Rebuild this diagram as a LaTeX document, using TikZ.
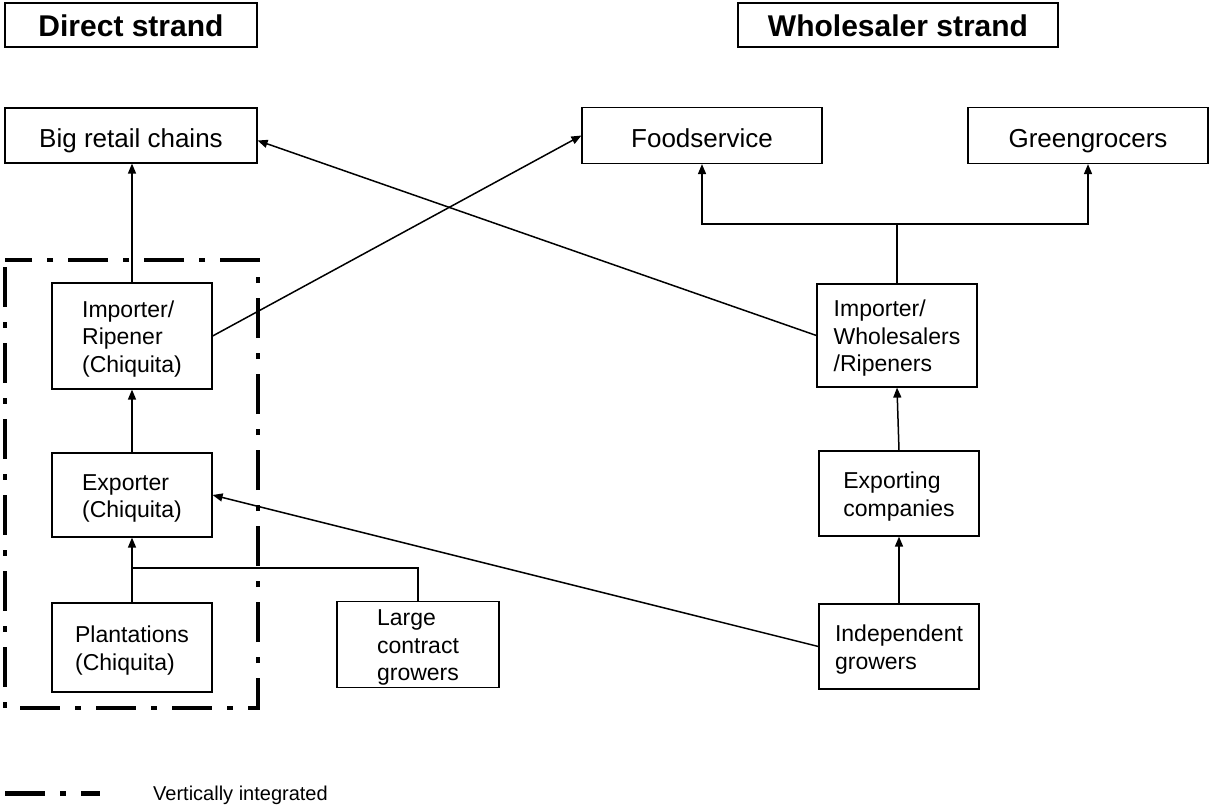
\documentclass[tikz,border=0pt]{standalone}
\usepackage{fontspec}
\setmainfont{Liberation Sans}
\usetikzlibrary{arrows.meta}
\begin{document}
\begin{tikzpicture}[x=1pt,y=-1pt,
  box/.style={draw, line width=1.2pt, inner sep=0pt, font=\fontsize{23}{27.5}\selectfont, align=left},
  two/.style={box, text height=45pt, text depth=0pt},
  three/.style={box, text height=72pt, text depth=0pt},
  topbox/.style={box, font=\fontsize{26}{30}\selectfont, align=center, text height=23pt, text depth=0pt},
  headbox/.style={box, font=\bfseries\fontsize{30}{36}\selectfont, align=center, text height=22pt, text depth=0pt},
  conn/.style={line width=1.5pt},
  arr/.style={conn, -{Triangle[length=10pt,width=8pt]}},
  vint/.style={line width=4pt, dash pattern=on 40pt off 15pt on 6pt off 15pt}]
\useasboundingbox (0,0) rectangle (1210,809);

% headings
\node[headbox, minimum width=252, minimum height=44] (direct) at (131,25) {Direct strand};
\node[headbox, minimum width=320, minimum height=44] (whole) at (898,25) {Wholesaler strand};

% top row
\node[topbox, minimum width=252, minimum height=55] (big) at (131,135.5) {Big retail chains};
\node[topbox, minimum width=240, minimum height=56] (food) at (702,135.5) {Foodservice};
\node[topbox, minimum width=240, minimum height=56] (green) at (1088,135.5) {Greengrocers};

% direct strand
\node[three, minimum width=160, minimum height=106] (impR) at (132,336) {Importer/\\Ripener\\(Chiquita)};
\node[two, minimum width=160, minimum height=84] (expC) at (132,495) {Exporter\\(Chiquita)};
\node[two, minimum width=160, minimum height=89] (plant) at (132,647.5) {Plantations\\(Chiquita)};
\node[three, minimum width=162, minimum height=86] (large) at (418,644.5) {Large\\contract\\growers};

% wholesaler strand
\node[three, minimum width=160, minimum height=103] (impW) at (897,335.5) {Importer/\\Wholesalers\\/Ripeners};
\node[two, minimum width=160, minimum height=85] (expW) at (899,493.5) {Exporting\\companies};
\node[two, minimum width=160, minimum height=85] (indep) at (899,646.5) {Independent\\growers};

% vertically integrated frame
\draw[vint, dash phase=69pt] (5,260) rectangle (258,708);

% connectors
\coordinate (j) at (132,568);
\coordinate (k) at (897,224);
\draw[arr] (impR.north) -- (impR.north |- big.south);
\draw[arr] (expC.north) -- (impR.south);
\draw[arr] (plant.north) -- (expC.south);
\draw[conn] (large.north) |- (j);
\draw[arr] (impR.east) -- (food.west);
\draw[arr] (impW.west) -- ([yshift=-5pt]big.east);
\draw[arr] (indep.west) -- (expC.east);
\draw[arr] (expW.north) -- (impW.south);
\draw[arr] (indep.north) -- (expW.south);
\draw[conn] (impW.north) -- (k);
\draw[arr] (k) -| (food.south);
\draw[arr] (k) -| (green.south);

% legend
\coordinate (l1) at (5,793);
\coordinate (l2) at (100,793);
\draw[vint, line width=5pt] (l1) -- (l2);
\node[anchor=base west, inner sep=0pt, font=\fontsize{20}{24}\selectfont] (legtext) at (153,800) {Vertically integrated};
\end{tikzpicture}
\end{document}
